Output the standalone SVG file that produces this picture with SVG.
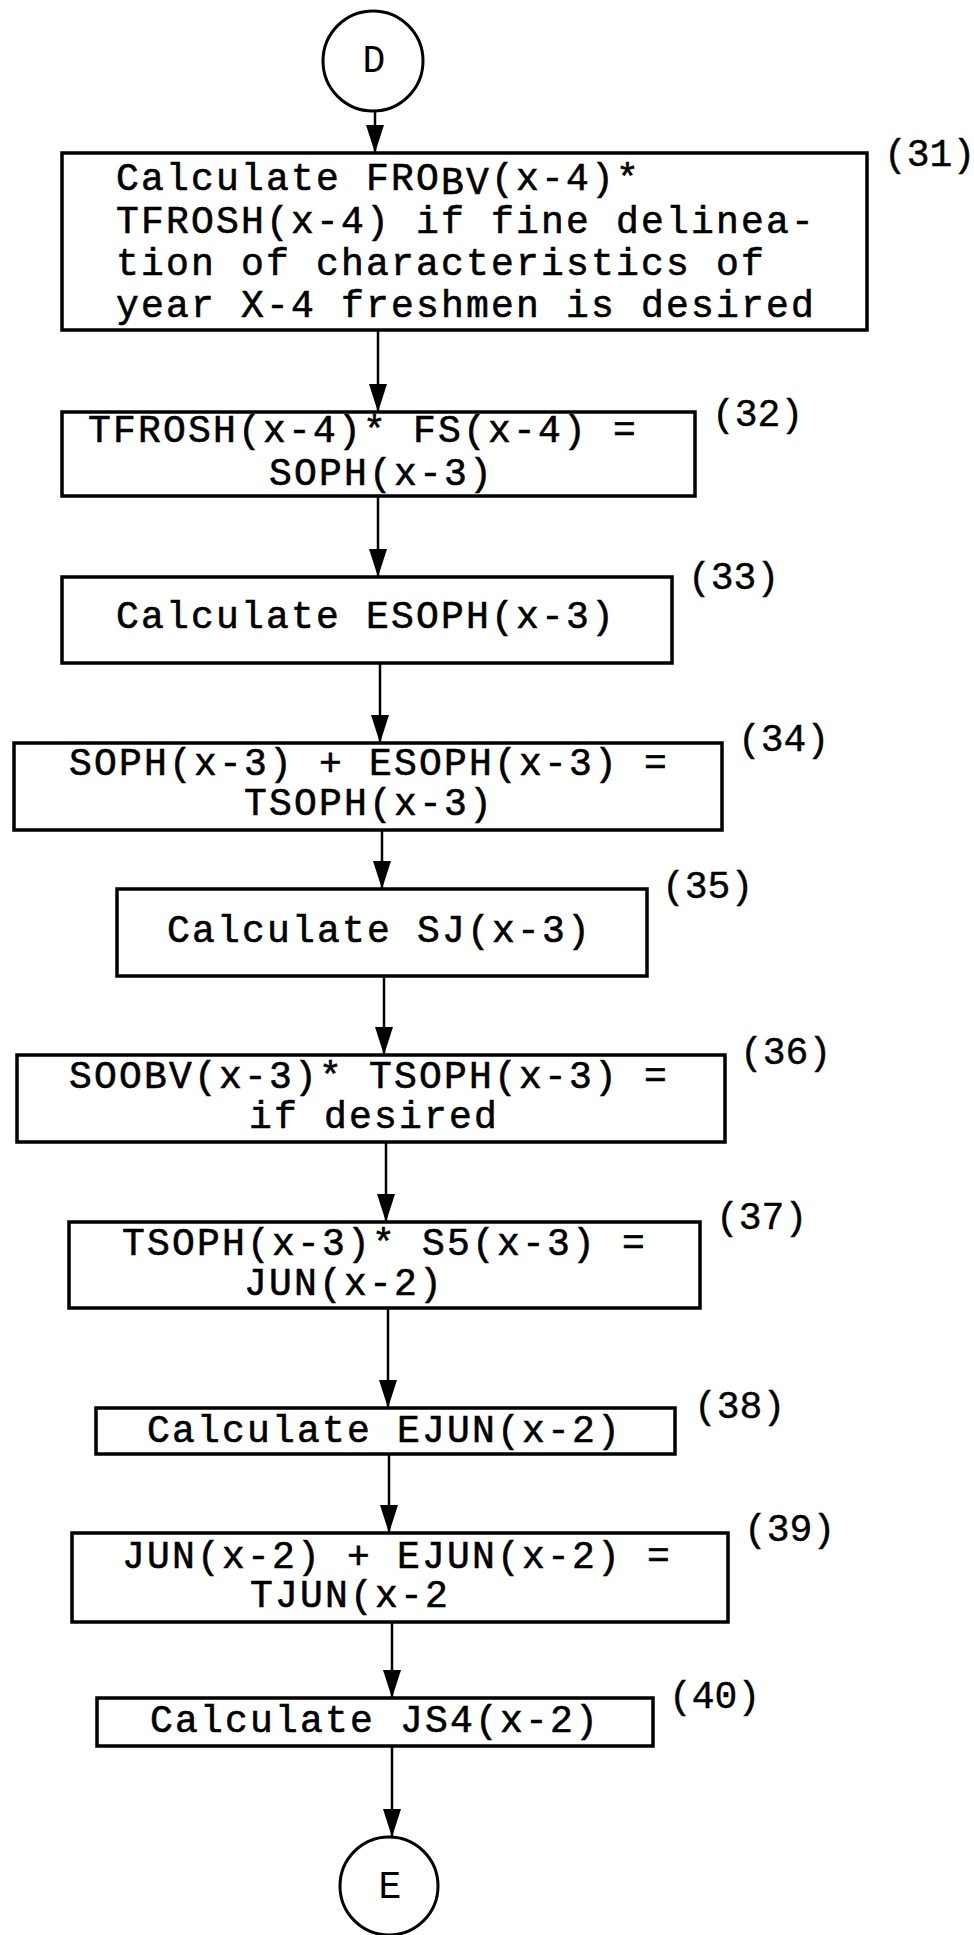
<svg xmlns="http://www.w3.org/2000/svg" width="974" height="1935" viewBox="0 0 974 1935">
<style>
.bg{fill:#fff}
.box{fill:#fff;stroke:#000;stroke-width:3.5}
.term{fill:#fff;stroke:#000;stroke-width:3}
.t{font-family:"Liberation Mono","Courier New",monospace;font-size:38px;letter-spacing:2.2px;fill:#000;stroke:#000;stroke-width:0.6}
.lbl{font-family:"Liberation Mono","Courier New",monospace;font-size:38px;fill:#000;stroke:#000;stroke-width:0.4}
.c{font-family:"Liberation Mono","Courier New",monospace;font-size:38px;fill:#000;text-anchor:middle}
.edge{stroke:#000;stroke-width:2.5;fill:none;marker-end:url(#ah)}
</style>
<defs>
<marker id="ah" viewBox="0 -10 30 20" refX="28" refY="0" markerWidth="30" markerHeight="20" markerUnits="userSpaceOnUse" orient="auto">
<path d="M0,-9 L28,0 L0,9 z" fill="#000"/>
</marker>
</defs>
<rect class="bg" x="0" y="0" width="974" height="1935"/>
<g id="connectors">
<line class="edge" x1="375" y1="112" x2="375" y2="153"/>
<line class="edge" x1="378" y1="330" x2="378" y2="412"/>
<line class="edge" x1="378" y1="496" x2="378" y2="577"/>
<line class="edge" x1="380" y1="663" x2="380" y2="743"/>
<line class="edge" x1="382" y1="830" x2="382" y2="889"/>
<line class="edge" x1="384" y1="976" x2="384" y2="1055"/>
<line class="edge" x1="386" y1="1142" x2="386" y2="1222"/>
<line class="edge" x1="388" y1="1308" x2="388" y2="1408"/>
<line class="edge" x1="389" y1="1454" x2="389" y2="1533"/>
<line class="edge" x1="392" y1="1622" x2="392" y2="1698"/>
<line class="edge" x1="392" y1="1746" x2="392" y2="1837"/>
</g>
<g id="nodeD">
<circle class="term" cx="373" cy="61" r="50"/>
<text class="c" x="374" y="72">D</text>
</g>
<g id="node31">
<rect class="box" x="62" y="153" width="805" height="177"/>
<text class="t" x="116" y="190">Calculate FRO<tspan dy="4">BV</tspan><tspan dy="-4">(x-4)*</tspan></text>
<text class="t" x="116" y="233">TFROSH(x-4) if fine delinea-</text>
<text class="t" x="116" y="275">tion of characteristics of</text>
<text class="t" x="116" y="317">year X-4 freshmen is desired</text>
<text class="lbl" x="884" y="166">(31)</text>
</g>
<g id="node32">
<rect class="box" x="62" y="412" width="633" height="84"/>
<text class="t" x="88" y="442">TFROSH(x-4)* FS(x-4) =</text>
<text class="t" x="269" y="485">SOPH(x-3)</text>
<text class="lbl" x="712" y="426">(32)</text>
</g>
<g id="node33">
<rect class="box" x="62" y="577" width="610" height="86"/>
<text class="t" x="116" y="628">Calculate ESOPH(x-3)</text>
<text class="lbl" x="688" y="589">(33)</text>
</g>
<g id="node34">
<rect class="box" x="14" y="743" width="708" height="87"/>
<text class="t" x="69" y="775">SOPH(x-3) + ESOPH(x-3) =</text>
<text class="t" x="244" y="815">TSOPH(x-3)</text>
<text class="lbl" x="738" y="751">(34)</text>
</g>
<g id="node35">
<rect class="box" x="117" y="889" width="530" height="87"/>
<text class="t" x="167" y="942">Calculate SJ(x-3)</text>
<text class="lbl" x="662" y="898">(35)</text>
</g>
<g id="node36">
<rect class="box" x="17" y="1055" width="708" height="87"/>
<text class="t" x="69" y="1088">SOOBV(x-3)* TSOPH(x-3) =</text>
<text class="t" x="249" y="1128">if desired</text>
<text class="lbl" x="740" y="1064">(36)</text>
</g>
<g id="node37">
<rect class="box" x="69" y="1222" width="631" height="86"/>
<text class="t" x="122" y="1255">TSOPH(x-3)* S5(x-3) =</text>
<text class="t" x="244" y="1295">JUN(x-2)</text>
<text class="lbl" x="716" y="1229">(37)</text>
</g>
<g id="node38">
<rect class="box" x="96" y="1408" width="579" height="46"/>
<text class="t" x="147" y="1442">Calculate EJUN(x-2)</text>
<text class="lbl" x="694" y="1418">(38)</text>
</g>
<g id="node39">
<rect class="box" x="72" y="1533" width="656" height="89"/>
<text class="t" x="122" y="1568">JUN(x-2) + EJUN(x-2) =</text>
<text class="t" x="250" y="1607">TJUN(x-2</text>
<text class="lbl" x="744" y="1541">(39)</text>
</g>
<g id="node40">
<rect class="box" x="97" y="1698" width="556" height="48"/>
<text class="t" x="150" y="1732">Calculate JS4(x-2)</text>
<text class="lbl" x="669" y="1708">(40)</text>
</g>
<g id="nodeE">
<circle class="term" cx="389" cy="1886" r="49"/>
<text class="c" x="390" y="1898">E</text>
</g>
</svg>
